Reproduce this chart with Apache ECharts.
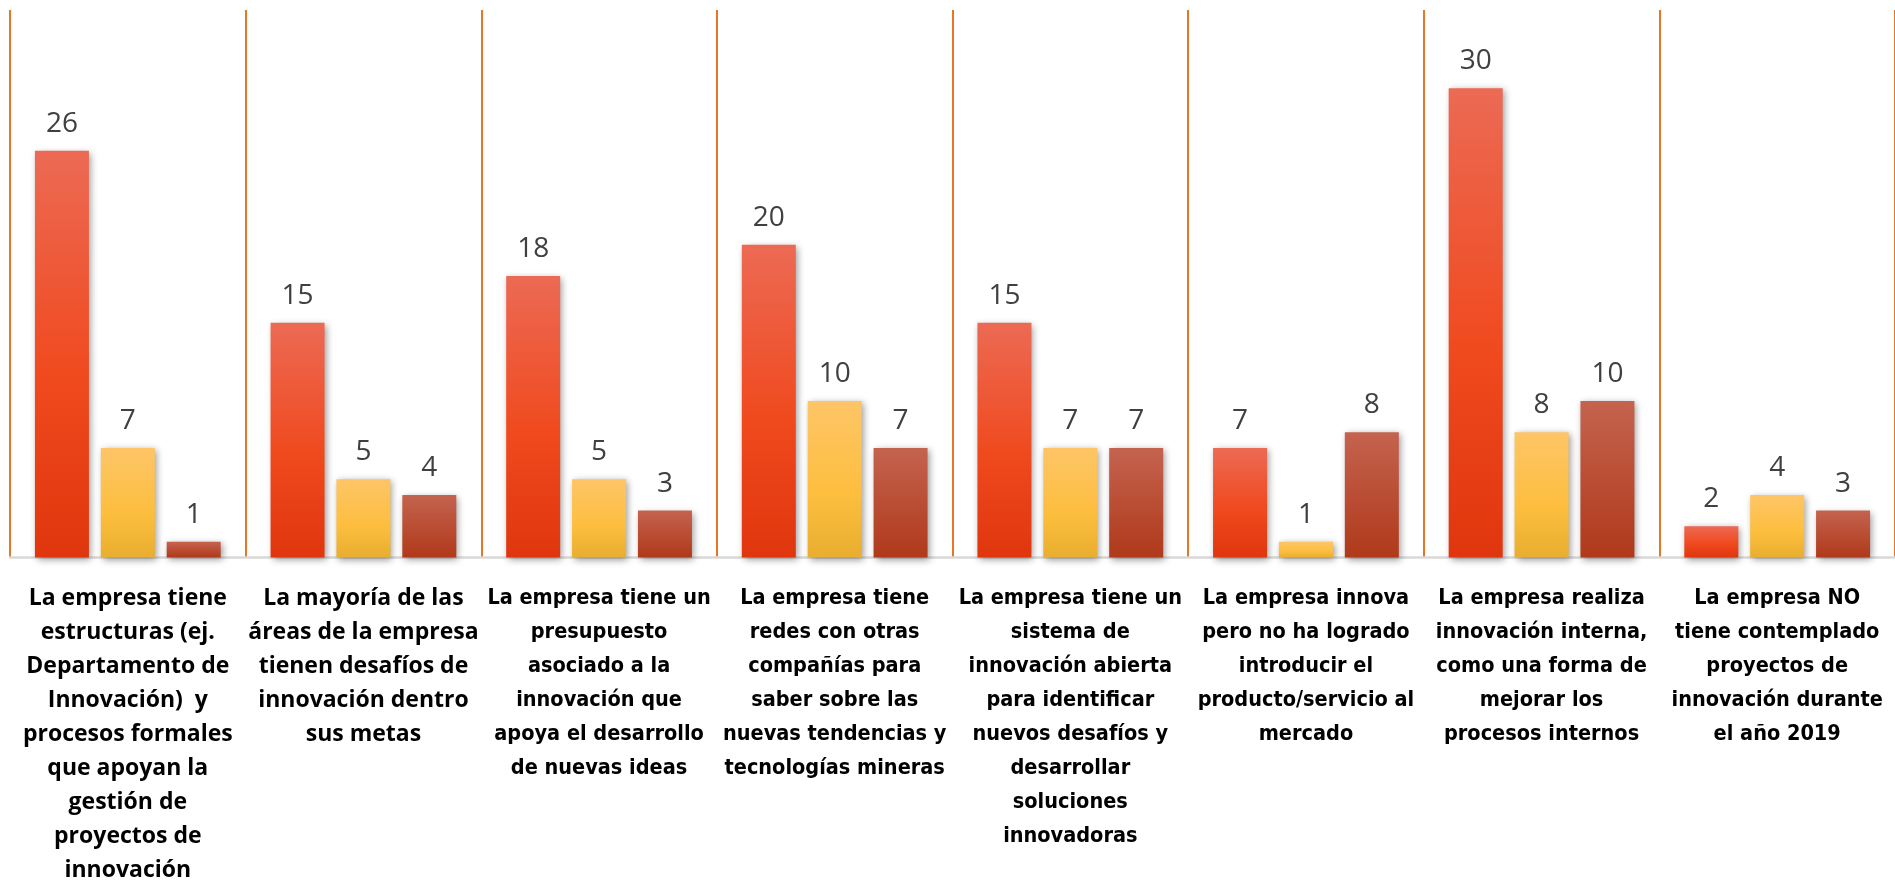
<!DOCTYPE html>
<html>
<head>
<meta charset="utf-8">
<script src="https://cdn.jsdelivr.net/npm/echarts@6/dist/echarts.min.js"></script>
<style>
html,body{margin:0;padding:0;background:#fff;}
#chart{width:1895px;height:882px;}
</style>
</head>
<body>
<div id="chart"></div>
<script>
const categories = [
  "La empresa tiene\nestructuras (ej.\nDepartamento de\nInnovación)  y\nprocesos formales\nque apoyan la\ngestión de\nproyectos de\ninnovación",
  "La mayoría de las\náreas de la empresa\ntienen desafíos de\ninnovación dentro\nsus metas",
  "La empresa tiene un\npresupuesto\nasociado a la\ninnovación que\napoya el desarrollo\nde nuevas ideas",
  "La empresa tiene\nredes con otras\ncompañías para\nsaber sobre las\nnuevas tendencias y\ntecnologías mineras",
  "La empresa tiene un\nsistema de\ninnovación abierta\npara identificar\nnuevos desafíos y\ndesarrollar\nsoluciones\ninnovadoras",
  "La empresa innova\npero no ha logrado\nintroducir el\nproducto/servicio al\nmercado",
  "La empresa realiza\ninnovación interna,\ncomo una forma de\nmejorar los\nprocesos internos",
  "La empresa NO\ntiene contemplado\nproyectos de\ninnovación durante\nel año 2019"
];
const seriesA = [26, 15, 18, 20, 15, 7, 30, 2];
const seriesB = [7, 5, 5, 10, 7, 1, 8, 4];
const seriesC = [1, 4, 3, 7, 7, 8, 10, 3];

const chart = echarts.init(document.getElementById('chart'), null, {renderer: 'canvas'});

function grad(stops) {
  return new echarts.graphic.LinearGradient(0, 0, 0, 1, stops.map((c, i) => ({offset: c[0], color: c[1]})));
}
const shadow = {shadowColor: 'rgba(0,0,0,0.4)', shadowBlur: 7, shadowOffsetX: 2, shadowOffsetY: 2};
const valLabel = {
  show: true, position: 'top', distance: 13,
  fontFamily: 'Open Sans', fontSize: 28, color: '#404040'
};

function mk(name, data, stops) {
  return {
    name: name, type: 'bar', data: data,
    barWidth: 54, barGap: '22%',
    itemStyle: Object.assign({color: grad(stops)}, shadow),
    label: valLabel
  };
}

chart.setOption({
  animation: false,
  grid: {left: 10, top: 10, width: 1890, height: 551, containLabel: false},
  xAxis: {
    type: 'category', data: categories,
    axisLine: {show: true, lineStyle: {color: '#D9D9D9', width: 2.5}},
    axisTick: {show: false},
    splitLine: {show: true, interval: 0, lineStyle: {color: '#E97527', width: 2}},
    axisLabel: {
      interval: 0, margin: 24,
      formatter: function (v, i) { return (i < 2 ? '{w|' : '{n|') + v + '}'; },
      rich: {
        w: {fontFamily: 'Open Sans', fontWeight: 'bold', fontSize: 23, lineHeight: 34, color: '#000', align: 'center'},
        n: {fontFamily: "'Liberation Sans Narrow', 'DejaVu Sans Condensed', Lato", fontWeight: 'bold', fontSize: 21.5, lineHeight: 34, color: '#000', align: 'center'}
      }
    }
  },
  yAxis: {
    type: 'value', min: 0, max: 35, show: false,
    splitLine: {show: false}
  },
  series: [
    mk('A', seriesA, [[0, '#EC6A54'], [0.55, '#F04A1F'], [1, '#E0360D']]),
    mk('B', seriesB, [[0, '#FEC567'], [0.6, '#FDBE3E'], [1, '#E8AE2F']]),
    mk('C', seriesC, [[0, '#C4634F'], [1, '#B0391A']])
  ]
});
</script>
</body>
</html>
